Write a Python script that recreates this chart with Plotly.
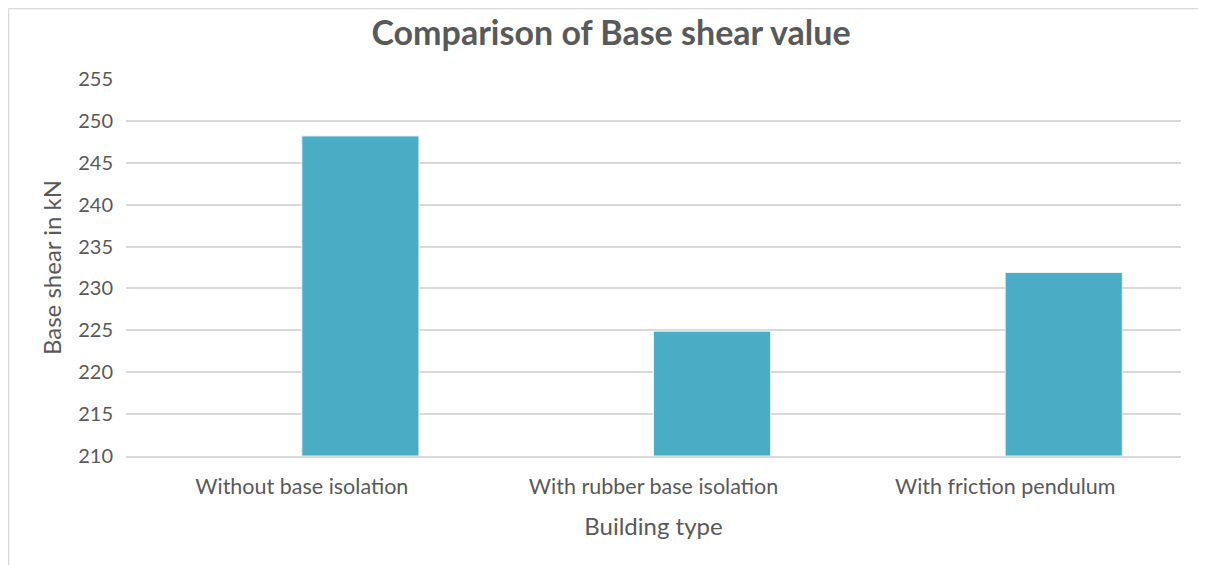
import plotly.graph_objects as go

categories = ["Without base isolation", "With rubber base isolation", "With friction pendulum"]
base_shear = [248.2, 224.9, 231.9]
y_ticks = [210, 215, 220, 225, 230, 235, 240, 245, 250, 255]
y_min = 210

FONT = "Lato"
TXT = "#595959"

fig = go.Figure()
fig.add_trace(go.Bar(
    x=categories, y=[v - y_min for v in base_shear], base=y_min,
    width=0.333, offset=0,
    marker=dict(color="#4BACC6", line=dict(color="#e6f3f7", width=1)),
    showlegend=False,
    hovertext=[str(v) for v in base_shear],
))

L, T, W_PLOT, H_PLOT = 118, 71, 1055, 377
fig.update_layout(
    width=1206, height=565,
    margin=dict(l=L, r=1206 - L - W_PLOT, t=T, b=565 - T - H_PLOT),
    paper_bgcolor="white", plot_bgcolor="white",
    title=dict(text="<b>Comparison of Base shear value</b>", x=0.5, xanchor="center",
               y=1 - 25 / 565, yanchor="middle",
               font=dict(family=FONT, size=34, color=TXT)),
    font=dict(family=FONT, color=TXT),
    xaxis=dict(
        showgrid=False, showline=True, linecolor="#d9d9d9", linewidth=1.5,
        ticks="", ticklabelstandoff=10, tickfont=dict(size=21.5, color=TXT),
        title=dict(text="Building type", font=dict(size=24, color=TXT), standoff=21),
    ),
    yaxis=dict(
        range=[210, 255], tickvals=y_ticks, showgrid=True, gridcolor="#d9d9d9", gridwidth=1.5,
        zeroline=False, showline=False, ticks="", ticklabelstandoff=12,
        tickfont=dict(size=20, color=TXT),
        title=dict(text="Base shear in kN", font=dict(size=24, color=TXT), standoff=9),
    ),
    shapes=[
        dict(type="line", xref="paper", yref="paper", x0=-(L - 0.5) / W_PLOT, x1=1.1,
             y0=1 + (T - 0.5) / H_PLOT, y1=1 + (T - 0.5) / H_PLOT,
             line=dict(color="#d9d9d9", width=1.5)),
        dict(type="line", xref="paper", yref="paper", x0=-(L - 0.5) / W_PLOT, x1=-(L - 0.5) / W_PLOT,
             y0=-0.4, y1=1 + (T - 0.5) / H_PLOT,
             line=dict(color="#d9d9d9", width=1.5)),
    ],
)

fig.write_html("out.html")
